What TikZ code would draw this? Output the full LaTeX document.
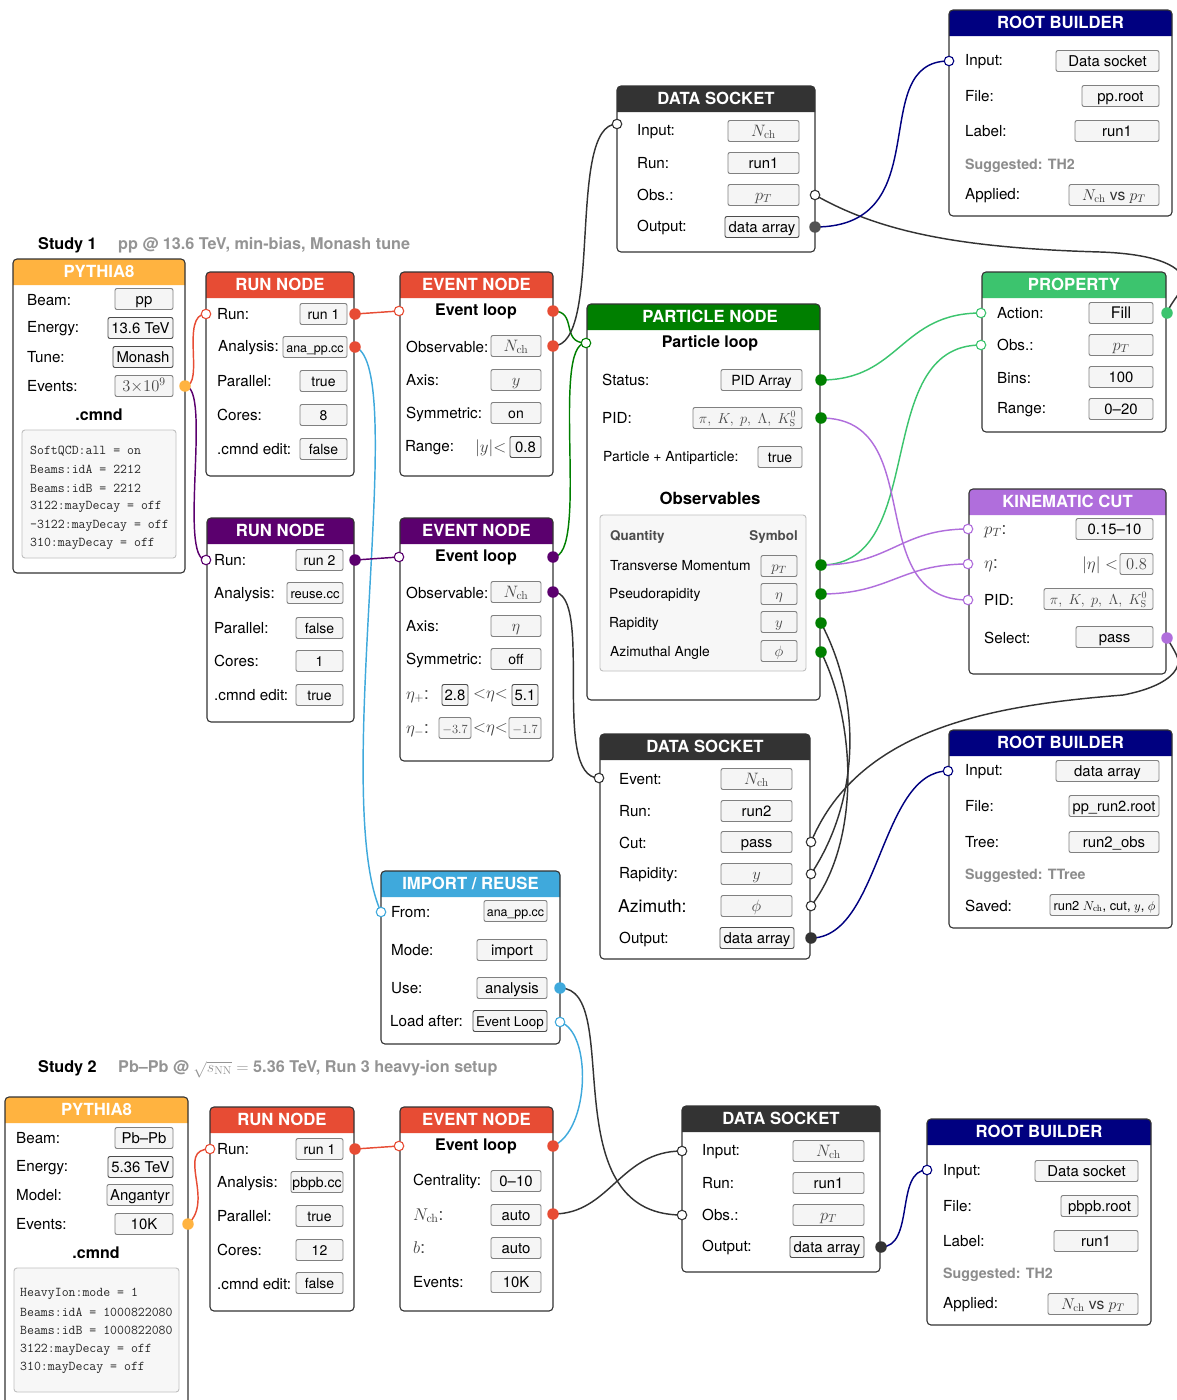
\documentclass[tikz,border=0pt]{standalone}
\usepackage{fix-cm}
\usepackage[no-math]{fontspec}
\setmainfont{TeX Gyre Heros}
\definecolor{corange}{HTML}{FFB340}
\definecolor{cred}{HTML}{E74C34}
\definecolor{cpurple}{HTML}{5B006E}
\definecolor{cgreen}{HTML}{007F00}
\definecolor{clgreen}{HTML}{3CC46E}
\definecolor{cviolet}{HTML}{B06EDC}
\definecolor{cnavy}{HTML}{000080}
\definecolor{cdark}{HTML}{333333}
\definecolor{cblue}{HTML}{3FA9DC}
\pgfdeclarelayer{wires}
\pgfdeclarelayer{top}
\pgfsetlayers{main,wires,top}
\newcount\nn
\newcommand{\fs}[1]{\fontsize{#1}{#1}\selectfont}
\tikzset{
 x=1pt,y=-1pt,
 panelbody/.style={fill=white,inner sep=0pt,outer sep=0pt},
 lab/.style={anchor=base west,inner sep=0pt,text=black,font=\fs{15.2}},
 heading/.style={anchor=base,inner sep=0pt,font=\fs{16}\bfseries},
 title/.style={anchor=base,inner sep=0pt,text=white,font=\fs{16.7}\bfseries},
 hint/.style={anchor=base west,inner sep=0pt,text=black!45,font=\fs{14.2}\bfseries},
 value/.style={draw=black!50,fill=black!4,line width=.9pt,rounded corners=2pt,inner sep=0pt,
   text height=12pt,text depth=2pt,font=\fs{14.9}},
 runval/.style={font=\fs{14}},
 strong/.style={draw=black!70},
 codebox/.style={draw=black!25,fill=black!3,line width=.9pt,rounded corners=3pt,inner sep=0pt},
 codeline/.style={anchor=base west,inner sep=0pt,text=black!85,font=\fs{13.45}\ttfamily},
 mathval/.style={text=black!72,font=\fs{16.5}},
 mathlab/.style={text=black!75,font=\fs{17}},
 portout/.style={circle,fill=#1,draw=none,minimum size=11.5pt,inner sep=0pt},
 portin/.style={circle,fill=white,draw=#1,line width=1.1pt,minimum size=9.5pt,inner sep=0pt},
 wire/.style={draw=#1,line width=1.45pt},
}
% [title shift] name x1 y1 x2 y2 colour title
\newcommand{\panel}[8][0]{%
 \pgfmathsetmacro\pcx{(#3+#5)/2}\pgfmathsetmacro\pcy{(#4+#6)/2}%
 \pgfmathsetmacro\pw{#5-#3}\pgfmathsetmacro\ph{#6-#4}%
 \node[panelbody,minimum width=\pw pt,minimum height=\ph pt] (#2) at (\pcx,\pcy) {};
 \fill[#7,rounded corners=4pt] (#3,#4+26) -- (#3,#4) -- (#5,#4) -- (#5,#4+26);
 \draw[cdark,line width=1.1pt,rounded corners=4pt] (#3,#4) rectangle (#5,#6);
 \node[title] (#2title) at (\pcx+#1,#4+18.4) {#8};
}
% x1 x2 cy text
\newcommand{\fld}[5][]{%
 \global\advance\nn by 1
 \pgfmathsetmacro\pcx{(#2+#3)/2}\pgfmathsetmacro\pw{#3-#2}%
 \node[value,#1,minimum width=\pw pt,minimum height=21pt] (f\the\nn) at (\pcx,#4) {#5};
}
% x cy text
\newcommand{\lab}[4][]{%
 \global\advance\nn by 1
 \node[lab,#1] (l\the\nn) at (#2,#3+5) {#4};
}
\newcommand{\nch}{$N_{\mathrm{ch}}$}
\newcommand{\pT}{$p_T$}
\newcommand{\pidlist}{$\pi,\ K,\ p,\ \Lambda,\ K^0_{\mathrm{S}}$}
\begin{document}
\begin{tikzpicture}
\useasboundingbox (0,0) rectangle (1177,1400);
\clip (0,0) rectangle (1177,1400);

% ---------- studies
\node[anchor=base west,inner sep=0pt,font=\fs{16.2}\bfseries] (study1) at (38,249.5) {Study 1};
\node[anchor=base west,inner sep=0pt,text=black!42,font=\fs{16.2}\bfseries] (sub1) at (118,249.5) {pp @ 13.6 TeV, min-bias, Monash tune};
\node[anchor=base west,inner sep=0pt,font=\fs{16.2}\bfseries] (study2) at (38,1072.5) {Study 2};
\node[anchor=base west,inner sep=0pt,text=black!42,font=\fs{16.2}\bfseries] (sub2) at (118,1072.5) {Pb--Pb @ $\sqrt{s_{\mathrm{NN}}}=$ 5.36 TeV, Run 3 heavy-ion setup};

% ---------- PYTHIA 1
\panel{pyA}{13}{259}{185}{573}{corange}{PYTHIA8}
\lab{27}{300}{Beam:}\lab{27}{327}{Energy:}\lab{27}{357}{Tune:}\lab{27}{386}{Events:}
\fld{115}{173}{299}{pp}
\fld[strong]{108}{173}{328}{13.6 TeV}
\fld[strong]{113}{173}{357}{Monash}
\fld[mathval]{115}{173}{386}{$3{\times}10^9$}
\node[heading] (cmA) at (99,420) {.cmnd};
\node[codebox,minimum width=154pt,minimum height=128pt] (codeA) at (99,494) {};
\node[codeline] (cA1) at (30,454) {SoftQCD:all = on};
\node[codeline] (cA2) at (30,473) {Beams:idA = 2212};
\node[codeline] (cA3) at (30,492) {Beams:idB = 2212};
\node[codeline] (cA4) at (30,509) {3122:mayDecay = off};
\node[codeline] (cA5) at (30,528) {-3122:mayDecay = off};
\node[codeline] (cA6) at (30,546) {310:mayDecay = off};

% ---------- RUN 1
\panel{runA}{206}{272}{354}{476}{cred}{RUN NODE}
\lab{217}{314}{Run:}\lab{218}{346}{Analysis:}\lab{217}{381}{Parallel:}\lab{217}{415}{Cores:}\lab{217}{449}{.cmnd edit:}
\fld[runval]{300}{347}{314}{run 1}
\fld[font=\fs{12.4}]{283}{347}{347}{ana\_pp.cc}
\fld[runval]{300}{347}{381}{true}
\fld[runval]{300}{347}{415}{8}
\fld[runval]{300}{347}{449}{false}

% ---------- EVENT 1
\panel{evA}{400}{272}{553}{476}{cred}{EVENT NODE}
\node[heading] (evAh) at (476,315.5) {Event loop};
\lab{406}{347}{Observable:}\lab{406}{380}{Axis:}\lab{406}{413}{Symmetric:}\lab{405}{446}{Range:}
\fld[mathval]{491}{541}{346}{\nch}
\fld[mathval]{491}{541}{380}{$y$}
\fld[runval]{491}{541}{413}{on}
\lab[mathlab]{475}{447}{$|y|{<}$}
\fld[strong]{510}{541}{447}{0.8}

% ---------- RUN 2
\panel{runB}{207}{518}{354}{722}{cpurple}{RUN NODE}
\lab{214}{560}{Run:}\lab{214}{593}{Analysis:}\lab{214}{628}{Parallel:}\lab{214}{661}{Cores:}\lab{214}{695}{.cmnd edit:}
\fld[runval]{296}{343}{560}{run 2}
\fld[font=\fs{13}]{287}{343}{593}{reuse.cc}
\fld[runval]{296}{343}{628}{false}
\fld[runval]{296}{343}{661}{1}
\fld[runval]{296}{343}{695}{true}

% ---------- EVENT 2
\panel{evB}{400}{518}{553}{761}{cpurple}{EVENT NODE}
\node[heading] (evBh) at (476,561.5) {Event loop};
\lab{406}{593}{Observable:}\lab{406}{626}{Axis:}\lab{406}{659}{Symmetric:}
\fld[mathval]{491}{541}{592}{\nch}
\fld[mathval]{491}{541}{626}{$\eta$}
\fld[runval]{491}{541}{659}{off}
\lab[mathlab]{406}{694}{$\eta_{+}$:}
\fld[strong]{442}{468}{695}{2.8}
\lab[mathlab]{473}{693}{${<}\eta{<}$}
\fld[strong]{512}{538}{695}{5.1}
\lab[mathlab]{406}{728}{$\eta_{-}$:}
\fld[mathval,font=\fs{12.5}]{439}{471}{728}{$-3.7$}
\lab[mathlab]{473}{727}{${<}\eta{<}$}
\fld[mathval,font=\fs{12.5}]{509}{541}{728}{$-1.7$}

% ---------- PARTICLE
\panel[6.5]{part}{587}{304}{820}{700}{cgreen}{PARTICLE NODE}
\node[heading] (parth) at (710,347.5) {Particle loop};
\lab{602}{380}{Status:}\fld[runval]{721}{802}{380}{PID Array}
\lab{602}{418}{PID:}\fld[mathval,font=\fs{14.4}]{693}{802}{418}{\pidlist}
\lab[font=\fs{13.9}]{603}{456}{Particle + Antiparticle:}\fld[runval]{758}{802}{457}{true}
\node[heading,font=\fs{16.8}\bfseries] (obsh) at (710,504.5) {Observables};
\node[codebox,minimum width=206pt,minimum height=156pt] (obsbox) at (703,593) {};
\node[anchor=base west,inner sep=0pt,text=black!70,font=\fs{13.4}\bfseries] (qh) at (610,540) {Quantity};
\node[anchor=base east,inner sep=0pt,text=black!70,font=\fs{13.4}\bfseries] (sh) at (798,540) {Symbol};
\lab[font=\fs{13.8}]{610}{565}{Transverse Momentum}\fld[mathval,font=\fs{15}]{761}{797}{566}{\pT}
\lab[font=\fs{13.8}]{609}{593}{Pseudorapidity}\fld[mathval,font=\fs{15}]{761}{797}{594}{$\eta$}
\lab[font=\fs{13.8}]{609}{622}{Rapidity}\fld[mathval,font=\fs{15}]{761}{797}{622}{$y$}
\lab[font=\fs{13.8}]{610}{651}{Azimuthal Angle}\fld[mathval,font=\fs{15}]{761}{797}{651}{$\phi$}

% ---------- DATA SOCKET 1
\panel{dsA}{617}{86}{815}{252}{cdark}{DATA SOCKET}
\lab{637}{130}{Input:}\lab{637}{163}{Run:}\lab{637}{195}{Obs.:}\lab{637}{226}{Output:}
\fld[mathval]{728}{799}{131}{\nch}
\fld{728}{799}{163}{run1}
\fld[mathval]{728}{799}{195}{\pT}
\fld[strong]{725}{799}{227}{data array}

% ---------- ROOT 1
\panel{rbA}{949}{10}{1172}{216}{cnavy}{ROOT BUILDER}
\lab{965}{60}{Input:}\lab{965}{96}{File:}\lab{965}{131}{Label:}\lab{965}{194}{Applied:}
\node[hint] (hA) at (965,169) {Suggested: TH2};
\fld{1056}{1159}{61}{Data socket}
\fld{1082}{1159}{96}{pp.root}
\fld{1075}{1159}{131}{run1}
\fld[text=black!80,font=\fs{15.6}]{1069}{1159}{195}{\nch{} vs \pT}

% ---------- PROPERTY
\panel{prop}{982}{272}{1166}{432}{clgreen}{PROPERTY}
\lab{997}{313}{Action:}\lab{997}{345}{Obs.:}\lab{997}{378}{Bins:}\lab{997}{408}{Range:}
\fld[font=\fs{16}]{1089}{1153}{313}{Fill}
\fld[mathval]{1089}{1153}{345}{\pT}
\fld{1089}{1153}{377}{100}
\fld{1089}{1153}{409}{0--20}

% ---------- KINEMATIC
\panel{kin}{969}{489}{1166}{674}{cviolet}{KINEMATIC CUT}
\lab[mathlab]{984}{529}{\pT:}\lab[mathlab]{984}{563}{$\eta$:}\lab{984}{600}{PID:}\lab{984}{638}{Select:}
\fld{1076}{1153}{529}{0.15--10}
\lab[mathlab]{1082}{564}{$|\eta|<$}
\fld[mathval]{1120}{1153}{564}{$0.8$}
\fld[mathval,font=\fs{14.4}]{1044}{1153}{599}{\pidlist}
\fld{1076}{1153}{637}{pass}

% ---------- DATA SOCKET 2
\panel{dsB}{600}{734}{810}{959}{cdark}{DATA SOCKET}
\lab{619}{779}{Event:}\lab{619}{811}{Run:}\lab{619}{843}{Cut:}\lab{619}{873}{Rapidity:}\lab[font=\fs{17.6}]{618}{907}{Azimuth:}\lab{619}{938}{Output:}
\fld[mathval]{721}{792}{779}{\nch}
\fld{721}{792}{811}{run2}
\fld{721}{792}{842}{pass}
\fld[mathval]{721}{792}{874}{$y$}
\fld[mathval]{721}{792}{906}{$\phi$}
\fld[strong]{720}{794}{938}{data array}

% ---------- ROOT 2
\panel{rbB}{949}{730}{1172}{928}{cnavy}{ROOT BUILDER}
\lab{965}{770}{Input:}\lab{965}{806}{File:}\lab{965}{842}{Tree:}\lab{965}{906}{Saved:}
\node[hint] (hB) at (965,879) {Suggested: TTree};
\fld{1056}{1159}{771}{data array}
\fld[font=\fs{14.6}]{1069}{1159}{806}{pp\_run2.root}
\fld{1069}{1159}{842}{run2\_obs}
\fld[font=\fs{12.9}]{1050}{1159}{905}{run2 \nch, cut, $y$, $\phi$}

% ---------- IMPORT
\panel{imp}{381}{871}{560}{1044}{cblue}{IMPORT / REUSE}
\lab{391}{912}{From:}\lab{391}{950}{Mode:}\lab{391}{988}{Use:}\lab{390}{1021}{Load after:}
\fld[font=\fs{12.4}]{484}{547}{911}{ana\_pp.cc}
\fld{477}{547}{950}{import}
\fld{477}{547}{988}{analysis}
\fld[strong,font=\fs{13.4}]{473}{547}{1021}{Event Loop}

% ---------- PYTHIA 2
\panel{pyB}{5}{1097}{188}{1420}{corange}{PYTHIA8}
\lab{16}{1138}{Beam:}\lab{16}{1166}{Energy:}\lab{16}{1195}{Model:}\lab{16}{1224}{Events:}
\fld{115}{173}{1138}{Pb--Pb}
\fld[strong]{108}{173}{1167}{5.36 TeV}
\fld{107}{173}{1195}{Angantyr}
\fld{115}{173}{1224}{10K}
\node[heading] (cmB) at (96,1258.5) {.cmnd};
\node[codebox,minimum width=165pt,minimum height=124pt] (codeB) at (96.5,1330) {};
\node[codeline] (cB1) at (20,1296) {HeavyIon:mode = 1};
\node[codeline] (cB2) at (20,1316) {Beams:idA = 1000822080};
\node[codeline] (cB3) at (20,1334) {Beams:idB = 1000822080};
\node[codeline] (cB4) at (20,1352) {3122:mayDecay = off};
\node[codeline] (cB5) at (20,1370) {310:mayDecay = off};

% ---------- RUN 3
\panel{runC}{210}{1107}{354}{1311}{cred}{RUN NODE}
\lab{217}{1149}{Run:}\lab{217}{1182}{Analysis:}\lab{217}{1216}{Parallel:}\lab{217}{1250}{Cores:}\lab{217}{1284}{.cmnd edit:}
\fld[runval]{296}{343}{1149}{run 1}
\fld[runval]{291}{343}{1182}{pbpb.cc}
\fld[runval]{296}{343}{1216}{true}
\fld[runval]{296}{343}{1250}{12}
\fld[runval]{296}{343}{1283}{false}

% ---------- EVENT 3
\panel{evC}{400}{1107}{553}{1311}{cred}{EVENT NODE}
\node[heading] (evCh) at (476,1150.5) {Event loop};
\lab{413}{1180}{Centrality:}\lab[mathlab]{413}{1215}{\nch:}\lab[mathlab]{413}{1248}{$b$:}\lab{413}{1282}{Events:}
\fld{491}{541}{1181}{0--10}
\fld{491}{541}{1215}{auto}
\fld{491}{541}{1248}{auto}
\fld{491}{541}{1282}{10K}

% ---------- DATA SOCKET 3
\panel{dsC}{682}{1106}{880}{1272}{cdark}{DATA SOCKET}
\lab{702}{1150}{Input:}\lab{702}{1183}{Run:}\lab{702}{1215}{Obs.:}\lab{702}{1246}{Output:}
\fld[mathval]{793}{864}{1151}{\nch}
\fld{793}{864}{1183}{run1}
\fld[mathval]{793}{864}{1215}{\pT}
\fld[strong]{790}{864}{1247}{data array}

% ---------- ROOT 3
\panel{rbC}{927}{1119}{1151}{1325}{cnavy}{ROOT BUILDER}
\lab{943}{1170}{Input:}\lab{943}{1206}{File:}\lab{943}{1241}{Label:}\lab{943}{1303}{Applied:}
\node[hint] (hC) at (943,1278) {Suggested: TH2};
\fld{1035}{1138}{1171}{Data socket}
\fld{1061}{1138}{1206}{pbpb.root}
\fld{1054}{1138}{1241}{run1}
\fld[text=black!80,font=\fs{15.6}]{1048}{1138}{1304}{\nch{} vs \pT}

% ---------- ports
\begin{pgfonlayer}{top}
\node[portout=corange] (pyAo) at (185,386) {};
\node[portin=cred] (runAi) at (206,314) {};
\node[portout=cred] (runAo) at (355,314) {};
\node[portout=cred] (runAa) at (355,347) {};
\node[portin=cred] (evAi) at (399,311) {};
\node[portout=cred] (evAo) at (553,311) {};
\node[portout=cred] (evAb) at (553,346) {};
\node[portin=cpurple] (runBi) at (206,560) {};
\node[portout=cpurple] (runBo) at (355,560) {};
\node[portin=cpurple] (evBi) at (399,557) {};
\node[portout=cpurple] (evBo) at (553,557) {};
\node[portout=cpurple] (evBb) at (553,592) {};
\node[portin=cgreen] (parti) at (586,343) {};
\node[portout=cgreen] (partS) at (821,380) {};
\node[portout=cgreen] (partP) at (821,418) {};
\node[portout=cgreen] (partT) at (821,565) {};
\node[portout=cgreen] (partE) at (821,594) {};
\node[portout=cgreen] (partY) at (821,623) {};
\node[portout=cgreen] (partF) at (821,652) {};
\node[portin=cdark] (dsAi) at (617,124) {};
\node[portin=cdark] (dsAb) at (815,195) {};
\node[portout=cdark!85] (dsAo) at (815,227) {};
\node[portin=cnavy] (rbAi) at (949,61) {};
\node[portin=clgreen] (propA) at (981,313) {};
\node[portin=clgreen] (propB) at (981,345) {};
\node[portout=clgreen] (propO) at (1167,313) {};
\node[portin=cviolet] (kinT) at (968,529) {};
\node[portin=cviolet] (kinE) at (968,564) {};
\node[portin=cviolet] (kinP) at (968,600) {};
\node[portout=cviolet] (kinO) at (1167,638) {};
\node[portin=cdark] (dsBi) at (599,778) {};
\node[portin=cdark] (dsBc) at (811,842) {};
\node[portin=cdark] (dsBy) at (811,874) {};
\node[portin=cdark] (dsBf) at (811,906) {};
\node[portout=cdark] (dsBo) at (811,938) {};
\node[portin=cnavy] (rbBi) at (948,771) {};
\node[portin=cblue] (impi) at (381,912) {};
\node[portout=cblue] (impU) at (560,988) {};
\node[portin=cblue] (impL) at (560,1022) {};
\node[portout=corange] (pyBo) at (188,1224) {};
\node[portin=cred] (runCi) at (210,1149) {};
\node[portout=cred] (runCo) at (355,1149) {};
\node[portin=cred] (evCi) at (399,1146) {};
\node[portout=cred] (evCo) at (553,1146) {};
\node[portout=cred] (evCb) at (553,1214) {};
\node[portin=cdark] (dsCi) at (682,1151) {};
\node[portin=cdark] (dsCb) at (682,1215) {};
\node[portout=cdark] (dsCo) at (881,1247) {};
\node[portin=cnavy] (rbCi) at (927,1170) {};
\end{pgfonlayer}

% ---------- connectors
\begin{pgfonlayer}{wires}
\draw[wire=cred] (pyAo.center) .. controls (205,386) and (180,314) .. (runAi.center);
\draw[wire=cpurple] (pyAo.center) .. controls (212,386) and (178,560) .. (runBi.center);
\draw[wire=cred] (runAo.center) -- (evAi.center);
\draw[wire=cblue] (runAa.center) .. controls (410,365) and (330,800) .. (impi.center);
\draw[wire=cgreen] (evAo.center) .. controls (578,311) and (560,343) .. (parti.center);
\draw[wire=cdark] (evAb.center) .. controls (604,346) and (566,124) .. (dsAi.center);
\draw[wire=cgreen] (evBo.center) .. controls (590,557) and (550,343) .. (parti.center);
\draw[wire=cpurple] (runBo.center) -- (evBi.center);
\draw[wire=cdark] (evBb.center) .. controls (595,592) and (550,778) .. (dsBi.center);
\draw[wire=cdark] (dsAb.center) .. controls (880,232) and (960,248) .. (1100,252) .. controls (1160,254) and (1185,268) .. (1183,283) .. controls (1182,293) and (1172,300) .. (propO.center);
\draw[wire=cnavy] (dsAo.center) .. controls (940,227) and (865,61) .. (rbAi.center);
\draw[wire=clgreen] (partS.center) .. controls (900,380) and (900,313) .. (propA.center);
\draw[wire=clgreen] (partT.center) .. controls (930,565) and (870,345) .. (propB.center);
\draw[wire=cviolet] (partP.center) .. controls (930,418) and (860,600) .. (kinP.center);
\draw[wire=cviolet] (partT.center) .. controls (890,565) and (900,529) .. (kinT.center);
\draw[wire=cviolet] (partE.center) .. controls (890,594) and (900,564) .. (kinE.center);
\draw[wire=cdark] (partY.center) .. controls (862,700) and (860,800) .. (dsBy.center);
\draw[wire=cdark] (partF.center) .. controls (855,720) and (862,840) .. (dsBf.center);
\draw[wire=cdark] (kinO.center) .. controls (1175,652) and (1181,660) .. (1177,667) .. controls (1172,680) and (1150,690) .. (1123,695) .. controls (1000,705) and (860,725) .. (dsBc.center);
\draw[wire=cnavy] (dsBo.center) .. controls (880,938) and (880,771) .. (rbBi.center);
\draw[wire=cdark] (impU.center) .. controls (625,988) and (550,1215) .. (dsCb.center);
\draw[wire=cblue] (impL.center) .. controls (592,1032) and (590,1130) .. (evCo.center);
\draw[wire=cred] (runCo.center) -- (evCi.center);
\draw[wire=cred] (pyBo.center) .. controls (215,1200) and (175,1149) .. (runCi.center);
\draw[wire=cdark] (evCb.center) .. controls (610,1214) and (620,1151) .. (dsCi.center);
\draw[wire=cnavy] (dsCo.center) .. controls (915,1247) and (895,1170) .. (rbCi.center);
\end{pgfonlayer}
\end{tikzpicture}
\end{document}
